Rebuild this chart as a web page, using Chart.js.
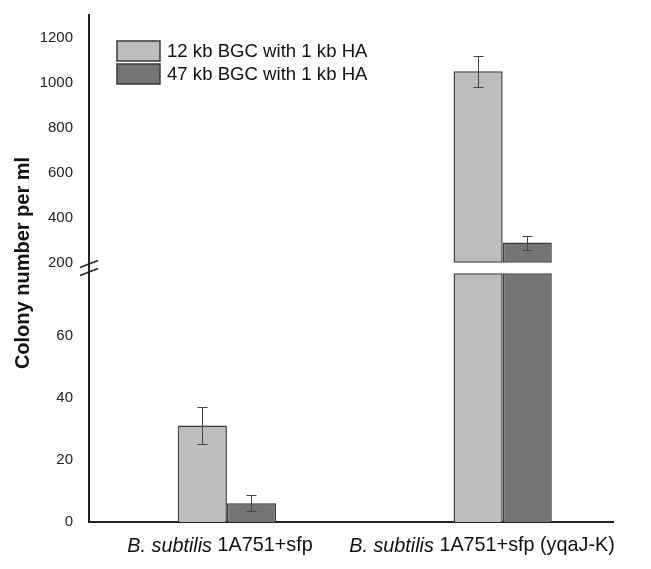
<!DOCTYPE html>
<html>
<head>
<meta charset="utf-8">
<title>Colony number per ml</title>
<script src="https://cdn.jsdelivr.net/npm/chart.js@4.4.1/dist/chart.umd.min.js"></script>
<style>
    html, body { margin: 0; padding: 0; background: #fff; }
</style>
</head>
<body>
<canvas id="colonyChart" width="651" height="569"></canvas>
<script>
// data
const categories = ["B. subtilis 1A751+sfp", "B. subtilis 1A751+sfp (yqaJ-K)"];
const speciesName = "B. subtilis";
const seriesNames = ["12 kb BGC with 1 kb HA", "47 kb BGC with 1 kb HA"];
const bgc12 = [31, 1050];
const bgc12Err = [6, 68];
const bgc47 = [6, 290];
const bgc47Err = [2.6, 31];
const lowTicks = [0, 20, 40, 60];
const highTicks = [200, 400, 600, 800, 1000, 1200];
const breakLow = 80;
const breakHigh = 200;

const barColors = ["#bdbdbd", "#747474"];
const edgeColor = "#3a3a3a";
const FONT = "'Liberation Sans', Arial, sans-serif";

const seriesValues = [bgc12, bgc47];
const seriesErrors = [bgc12Err, bgc47Err];

// each series is split into a lower piece (0..breakLow) and an upper piece (breakHigh..value)
const datasets = [];
seriesValues.forEach((values, k) => {
    datasets.push({
        label: seriesNames[k],
        stack: "s" + k,
        yAxisID: "yLow",
        data: values.map((v, i) => ({ x: i, y: [0, Math.min(v, breakLow)] })),
        backgroundColor: barColors[k],
        borderColor: edgeColor,
        borderWidth: 1.5,
        borderSkipped: "start",
    });
    datasets.push({
        label: seriesNames[k],
        stack: "s" + k,
        yAxisID: "yHigh",
        data: values.map((v, i) => ({ x: i, y: v > breakHigh ? [breakHigh, v] : null })),
        backgroundColor: barColors[k],
        borderColor: edgeColor,
        borderWidth: 1.5,
        borderSkipped: false,
    });
});

const errorBars = {
    id: "errorBars",
    afterDatasetsDraw(chart) {
        const ctx = chart.ctx;
        ctx.save();
        ctx.strokeStyle = "#444";
        ctx.lineWidth = 1;
        seriesValues.forEach((values, k) => {
            values.forEach((v, i) => {
                const high = v > breakHigh;
                const el = chart.getDatasetMeta(k * 2 + (high ? 1 : 0)).data[i];
                const scale = chart.scales[high ? "yHigh" : "yLow"];
                const e = seriesErrors[k][i];
                const yTop = Math.round(scale.getPixelForValue(v + e)) + 0.5;
                const yBot = Math.round(scale.getPixelForValue(v - e)) + 0.5;
                const x = Math.round(el.x) + 0.5;
                ctx.beginPath();
                ctx.moveTo(x, yTop); ctx.lineTo(x, yBot);
                ctx.moveTo(x - 5, yTop); ctx.lineTo(x + 5, yTop);
                ctx.moveTo(x - 5, yBot); ctx.lineTo(x + 5, yBot);
                ctx.stroke();
            });
        });
        ctx.restore();
    }
};

const decorations = {
    id: "decorations",
    afterDraw(chart) {
        const ctx = chart.ctx;
        const area = chart.chartArea;
        ctx.save();

        // axis break marks
        const xAxis = area.left;
        const yMid = (chart.scales.yLow.getPixelForValue(breakLow) + chart.scales.yHigh.getPixelForValue(breakHigh)) / 2;
        ctx.strokeStyle = "#222";
        ctx.lineWidth = 1.5;
        [-4, 4].forEach(dy => {
            ctx.beginPath();
            ctx.moveTo(xAxis - 9, yMid + dy + 3.5);
            ctx.lineTo(xAxis + 9, yMid + dy - 3.5);
            ctx.stroke();
        });

        // y title
        ctx.fillStyle = "#111";
        ctx.font = "bold 20px " + FONT;
        ctx.textAlign = "center";
        ctx.textBaseline = "middle";
        ctx.translate(23, 263);
        ctx.rotate(-Math.PI / 2);
        ctx.fillText("Colony number per ml", 0, 0);
        ctx.setTransform(1, 0, 0, 1, 0, 0);

        // legend
        seriesNames.forEach((name, k) => {
            const bx = area.left + 28, by = area.top + 26 + k * 23;
            ctx.fillStyle = barColors[k];
            ctx.fillRect(bx, by, 43, 20);
            ctx.strokeStyle = edgeColor;
            ctx.lineWidth = 1.5;
            ctx.strokeRect(bx, by, 43, 20);
            ctx.fillStyle = "#111";
            ctx.font = "18.6px " + FONT;
            ctx.textAlign = "left";
            ctx.textBaseline = "middle";
            ctx.fillText(name, bx + 50, by + 11);
        });

        // category labels, species name in italics
        const half = (area.right - area.left) / categories.length;
        categories.forEach((label, i) => {
            const rest = label.slice(speciesName.length);
            ctx.font = "italic 19.8px " + FONT;
            const w1 = ctx.measureText(speciesName).width;
            ctx.font = "19.8px " + FONT;
            const w2 = ctx.measureText(rest).width;
            const cx = area.left + (i + 0.5) * half;
            const x = cx - (w1 + w2) / 2;
            ctx.fillStyle = "#111";
            ctx.textAlign = "left";
            ctx.textBaseline = "middle";
            ctx.font = "italic 19.8px " + FONT;
            ctx.fillText(speciesName, x, 546);
            ctx.font = "19.8px " + FONT;
            ctx.fillText(rest, x + w1, 546);
        });
        ctx.restore();
    }
};

const tickStyle = {
    font: { family: FONT, size: 15 },
    color: "#222",
    padding: 16,
    callback: v => String(v)
};

// fixed axis width, and no extra label padding so the plot starts at the layout padding
function fitY(s) {
    s.width = 89;
    s.paddingTop = 0;
    s.paddingBottom = 0;
}

new Chart(document.getElementById("colonyChart"), {
    type: "bar",
    data: { datasets },
    options: {
        responsive: false,
        animation: false,
        layout: { padding: { top: 15, right: 38, left: 0, bottom: 0 } },
        datasets: { bar: { categoryPercentage: 0.356, barPercentage: 1 } },
        plugins: { legend: { display: false }, tooltip: { enabled: false } },
        scales: {
            x: {
                type: "linear",
                min: -0.5,
                max: 1.4,
                offset: false,
                grid: { display: false, drawTicks: false },
                border: { color: "#222", width: 2 },
                ticks: { display: false },
                afterBuildTicks: s => { s.ticks = categories.map((c, i) => ({ value: i })); },
                afterFit: s => { s.height = 47; s.paddingLeft = 0; s.paddingRight = 0; }
            },
            yLow: {
                type: "linear",
                position: "left",
                stack: "y",
                stackWeight: 1,
                stacked: false,
                min: 0,
                max: 81.5,
                grid: { display: false, drawTicks: false },
                border: { color: "#222", width: 2 },
                ticks: tickStyle,
                afterBuildTicks: s => { s.ticks = lowTicks.map(v => ({ value: v })); },
                afterFit: fitY
            },
            yHigh: {
                type: "linear",
                position: "left",
                stack: "y",
                stackWeight: 1,
                stacked: false,
                min: 175,
                max: 1300,
                grid: { display: false, drawTicks: false },
                border: { color: "#222", width: 2 },
                ticks: tickStyle,
                afterBuildTicks: s => { s.ticks = highTicks.map(v => ({ value: v })); },
                afterFit: fitY
            }
        }
    },
    plugins: [errorBars, decorations]
});
</script>
</body>
</html>
